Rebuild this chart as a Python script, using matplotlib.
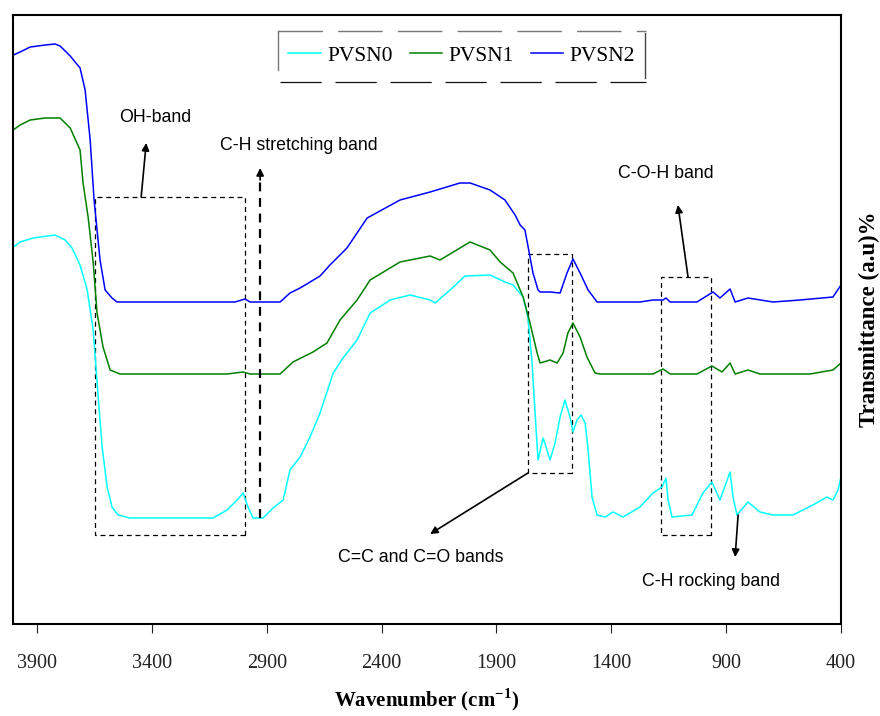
import matplotlib
matplotlib.use('Agg')
import matplotlib.pyplot as plt
from matplotlib.lines import Line2D
from matplotlib.patches import Rectangle

# --- data (transmittance in arbitrary units) ---
wn_pvsn2 = [4004, 3974, 3930, 3865, 3822, 3800, 3756, 3713, 3691, 3669, 3652, 3626, 3604,
            3574, 3552, 3038, 2995, 2973, 2842, 2799, 2755, 2668, 2625, 2551, 2463, 2320,
            2189, 2059, 2015, 1928, 1863, 1819, 1797, 1776, 1741, 1719, 1710, 1667, 1623,
            1593, 1567, 1536, 1501, 1462, 1275, 1219, 1175, 1162, 1144, 1027, 957, 927,
            883, 861, 805, 696, 578, 435, 400]
t_pvsn2 = [569, 572, 577, 579, 580, 578, 568, 556, 534, 484, 424, 364, 334,
           326, 322, 322, 325, 322, 322, 331, 336, 348, 359, 376, 406, 424,
           432, 441, 441, 434, 424, 409, 399, 394, 351, 334, 332, 332, 331,
           351, 365, 351, 334, 322, 322, 324, 324, 326, 322, 322, 332, 326,
           335, 322, 326, 322, 324, 327, 339]

wn_pvsn1 = [4004, 3974, 3930, 3865, 3800, 3756, 3713, 3700, 3678, 3656, 3639, 3613, 3582,
            3539, 3073, 3003, 2973, 2842, 2786, 2699, 2638, 2581, 2507, 2450, 2320, 2189,
            2146, 2037, 2015, 1928, 1884, 1828, 1784, 1754, 1723, 1710, 1667, 1636, 1610,
            1589, 1567, 1536, 1506, 1471, 1449, 1219, 1175, 1144, 1027, 962, 918, 883,
            861, 805, 753, 535, 435, 400]
t_pvsn1 = [494, 499, 504, 506, 506, 496, 474, 441, 407, 362, 311, 277, 254,
           250, 250, 252, 250, 250, 262, 272, 281, 304, 324, 344, 362, 368,
           364, 379, 382, 374, 362, 351, 327, 301, 271, 261, 264, 261, 271,
           291, 301, 287, 267, 251, 250, 250, 255, 250, 250, 258, 252, 261,
           250, 254, 250, 250, 254, 261]

wn_pvsn0 = [4004, 3974, 3917, 3822, 3778, 3748, 3713, 3682, 3656, 3634, 3617, 3595, 3574,
            3547, 3495, 3134, 3073, 3029, 3003, 2982, 2960, 2916, 2873, 2829, 2799, 2755,
            2712, 2668, 2611, 2568, 2507, 2450, 2416, 2363, 2276, 2189, 2167, 2102, 2037,
            1928, 1863, 1828, 1784, 1763, 1745, 1732, 1719, 1697, 1680, 1667, 1645, 1623,
            1602, 1580, 1567, 1549, 1532, 1514, 1501, 1484, 1462, 1427, 1393, 1349, 1275,
            1219, 1179, 1162, 1153, 1136, 1049, 1001, 962, 927, 883, 870, 853, 805, 753,
            696, 609, 522, 461, 435, 413, 400]
t_pvsn0 = [377, 382, 386, 389, 384, 376, 359, 334, 294, 227, 177, 137, 117,
           109, 106, 106, 114, 124, 131, 117, 106, 106, 116, 124, 154, 167,
           187, 211, 251, 266, 284, 311, 316, 324, 329, 324, 321, 334, 348,
           349, 342, 339, 327, 307, 261, 211, 164, 186, 174, 164, 181, 207,
           224, 207, 192, 204, 209, 201, 174, 127, 109, 107, 112, 107, 117,
           131, 137, 146, 124, 107, 109, 131, 142, 124, 152, 127, 109, 122, 112,
           109, 109, 119, 127, 124, 134, 147]

series = [('PVSN0', wn_pvsn0, t_pvsn0, '#00ffff'),
          ('PVSN1', wn_pvsn1, t_pvsn1, '#008000'),
          ('PVSN2', wn_pvsn2, t_pvsn2, '#0000ff')]

xticks = [3900, 3400, 2900, 2400, 1900, 1400, 900, 400]

serif = ['Liberation Serif', 'DejaVu Serif']
sans = ['Liberation Sans', 'DejaVu Sans']

fig = plt.figure(figsize=(8.8, 7.16), dpi=100)
ax = fig.add_axes([13 / 880, 92 / 716, 828 / 880, 609 / 716])

for name, wn, t, col in series:
    ax.plot(wn, t, color=col, lw=1.1, label=name)

ax.set_xlim(4005, 400)
ax.set_ylim(0, 609)
ax.set_yticks([])
ax.set_xticks(xticks)
ax.set_xticklabels([str(v) for v in xticks], family=serif, fontsize=14.5)
ax.tick_params(axis='x', direction='out', length=6.5, width=0.8, pad=15, colors='#222222')
for s in ax.spines.values():
    s.set_linewidth(1.5)

ax.set_xlabel('Wavenumber (cm$^{\\mathregular{-1}}$)', family=serif, fontsize=15,
              fontweight='bold', labelpad=10)
ax.yaxis.set_label_position('right')
ax.set_ylabel('Transmittance (a.u)%', family=serif, fontsize=16.5, fontweight='bold',
              labelpad=13)

# --- legend with odd frame ---
leg = ax.legend(loc='center', bbox_to_anchor=(0.542, 0.933), ncol=3, frameon=False,
                prop={'family': serif, 'size': 15.5}, handlelength=1.5,
                handletextpad=0.3, columnspacing=0.8)

def fline(x0, y0, x1, y1, **kw):
    fig.add_artist(Line2D([x0 / 880, x1 / 880], [1 - y0 / 716, 1 - y1 / 716],
                          transform=fig.transFigure, **kw))

fline(278, 31, 646, 31, color='#777777', lw=1.0, dashes=(32, 11))
fline(280, 82, 646, 82, color='#111111', lw=0.9, dashes=(33, 11))
fline(278, 31, 278, 70, color='#777777', lw=1.0)
fline(645, 33, 645, 78, color='#444444', lw=1.0)

# --- annotation boxes and arrows ---
box_kw = dict(fill=False, ec='k', lw=0.9, ls=(0, (4, 3)))
ax.add_patch(Rectangle((2995, 89), 3648 - 2995, 427 - 89, **box_kw))
ax.add_patch(Rectangle((1571, 151), 1763 - 1571, 370 - 151, **box_kw))
ax.add_patch(Rectangle((966, 89), 1184 - 966, 347 - 89, **box_kw))

arr = dict(arrowstyle='-|>', color='k', lw=1.2, mutation_scale=11, shrinkA=0, shrinkB=0)
tkw = dict(family=sans, fontsize=12.8, ha='center', va='center')

ax.annotate('', xy=(3425, 481), xytext=(3447, 427), arrowprops=arr)
ax.text(3386, 506, 'OH-band', **tkw)

ax.plot([2929, 2929], [106, 445], color='k', lw=1.6, ls=(0, (4, 3)))
ax.annotate('', xy=(2929, 456), xytext=(2929, 444), arrowprops=arr)
ax.text(2759, 478, 'C-H stretching band', **tkw)

ax.annotate('', xy=(2189, 90), xytext=(1763, 151), arrowprops=arr)
ax.text(2228, 66, 'C=C and C=O bands', **tkw)

ax.annotate('', xy=(1110, 419), xytext=(1066, 347), arrowprops=arr)
ax.text(1162, 451, 'C-O-H band', **tkw)

ax.annotate('', xy=(861, 67), xytext=(848, 109), arrowprops=arr)
ax.text(966, 42, 'C-H rocking band', **tkw)

fig.savefig('out.png', dpi=100)
